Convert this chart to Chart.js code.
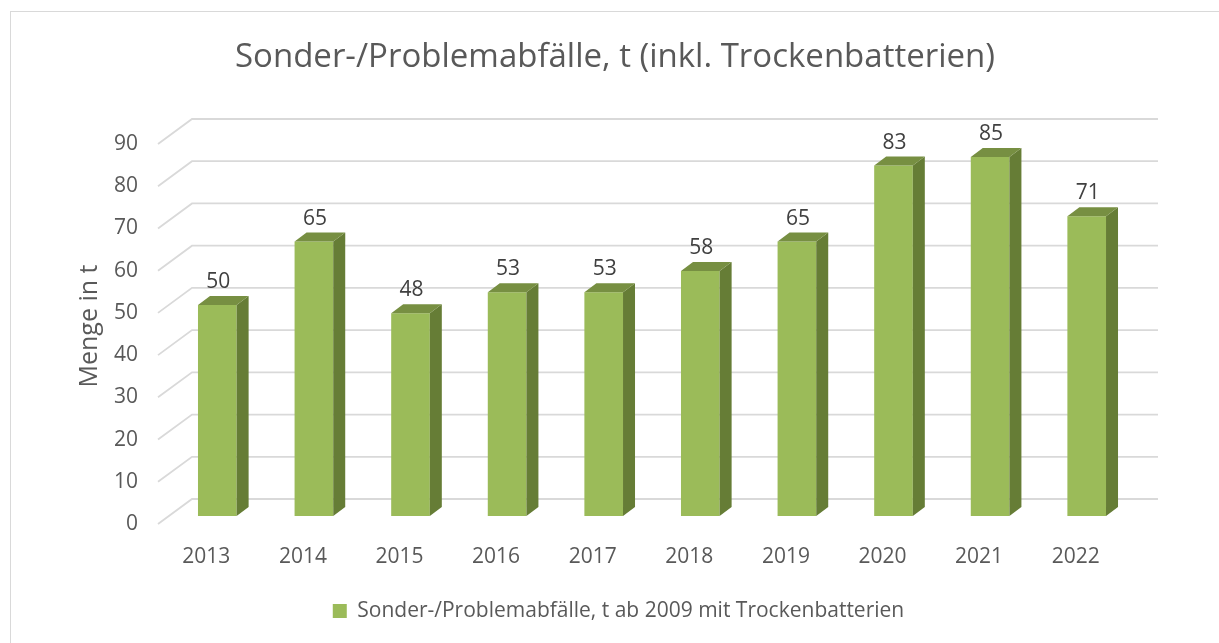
<!DOCTYPE html>
<html>
<head>
<meta charset="utf-8">
<title>Sonder-/Problemabfälle</title>
<script src="https://cdn.jsdelivr.net/npm/chart.js@4/dist/chart.umd.min.js"></script>
<style>
    html, body { margin: 0; padding: 0; background: #ffffff; }
    #wrap { position: relative; width: 1219px; height: 643px; }
    #frame { position: absolute; left: 10px; top: 11px; width: 1300px; height: 700px;
             border: 1px solid #d9d9d9; box-sizing: border-box; }
    canvas { position: absolute; left: 0; top: 0; }
</style>
</head>
<body>
<div id="wrap">
    <div id="frame"></div>
    <canvas id="wasteChart" width="1219" height="643"></canvas>
</div>
<script>
// Chart data
const years = ['2013', '2014', '2015', '2016', '2017', '2018', '2019', '2020', '2021', '2022'];
const tonnes = [50, 65, 48, 53, 53, 58, 65, 83, 85, 71];
const yTicks = [0, 10, 20, 30, 40, 50, 60, 70, 80, 90];

const seriesName = 'Sonder-/Problemabfälle, t ab 2009 mit Trockenbatterien';
const chartTitle = 'Sonder-/Problemabfälle, t (inkl. Trockenbatterien)';

const FONT = '"Open Sans", sans-serif';
const TEXT = '#595959';

// 3D offsets (px) - bar depth and wall depth
const BAR_DX = 12, BAR_DY = -9;
const FRONT_DX = -11, FRONT_DY = 8;   // from bar front plane to floor front edge
const BACK_DX = 23, BACK_DY = -17;    // from bar front plane to back wall

const pseudo3d = {
    id: 'pseudo3d',
    beforeDatasetsDraw(chart) {
        const ctx = chart.ctx;
        const y = chart.scales.y;
        const area = chart.chartArea;
        ctx.save();
        ctx.strokeStyle = '#d9d9d9';
        ctx.lineWidth = 1.8;
        yTicks.forEach(v => {
            const py = y.getPixelForValue(v);
            ctx.beginPath();
            ctx.moveTo(area.left + FRONT_DX, py + FRONT_DY);
            ctx.lineTo(area.left + BACK_DX, py + BACK_DY);
            ctx.lineTo(area.right + BACK_DX, py + BACK_DY);
            ctx.stroke();
        });
        ctx.restore();
    },
    afterDatasetsDraw(chart) {
        const ctx = chart.ctx;
        const meta = chart.getDatasetMeta(0);
        ctx.save();
        meta.data.forEach((bar, i) => {
            const left = bar.x - bar.width / 2;
            const right = bar.x + bar.width / 2;
            const top = bar.y;
            const base = bar.base;
            // side face
            ctx.fillStyle = '#667d36';
            ctx.beginPath();
            ctx.moveTo(right, top);
            ctx.lineTo(right + BAR_DX, top + BAR_DY);
            ctx.lineTo(right + BAR_DX, base + BAR_DY);
            ctx.lineTo(right, base);
            ctx.closePath();
            ctx.fill();
            // top face
            ctx.fillStyle = '#778f42';
            ctx.beginPath();
            ctx.moveTo(left, top);
            ctx.lineTo(left + BAR_DX, top + BAR_DY);
            ctx.lineTo(right + BAR_DX, top + BAR_DY);
            ctx.lineTo(right, top);
            ctx.closePath();
            ctx.fill();
            // value label
            ctx.fillStyle = '#404040';
            ctx.font = '21px ' + FONT;
            ctx.textAlign = 'center';
            ctx.textBaseline = 'alphabetic';
            ctx.fillText(String(tonnes[i]), bar.x + 1, top + BAR_DY - 8);
        });
        ctx.restore();
    },
    afterDraw(chart) {
        // title centred on the whole canvas
        const ctx = chart.ctx;
        ctx.save();
        ctx.fillStyle = TEXT;
        ctx.font = '33px ' + FONT;
        ctx.textAlign = 'center';
        ctx.textBaseline = 'middle';
        ctx.fillText(chartTitle, 615, 58);
        ctx.restore();
    }
};

document.addEventListener('DOMContentLoaded', function() {
    const ctx = document.getElementById('wasteChart').getContext('2d');

    new Chart(ctx, {
        type: 'bar',
        data: {
            labels: years,
            datasets: [{
                label: seriesName,
                data: tonnes,
                backgroundColor: '#9bbb59',
                borderWidth: 0,
                categoryPercentage: 1.0,
                barPercentage: 0.4
            }]
        },
        options: {
            responsive: false,
            animation: false,
            layout: {
                padding: { left: 18, right: 0, top: 136, bottom: 11.5 }
            },
            plugins: {
                title: { display: false },
                legend: {
                    position: 'bottom',
                    labels: {
                        color: TEXT,
                        font: { family: FONT, size: 21 },
                        boxWidth: 14,
                        boxHeight: 14,
                        padding: 10
                    }
                },
                tooltip: { enabled: false }
            },
            scales: {
                x: {
                    grid: { display: false, drawTicks: false },
                    border: { display: false },
                    ticks: {
                        color: TEXT,
                        font: { family: FONT, size: 21 },
                        labelOffset: FRONT_DX,
                        padding: 28,
                        maxRotation: 0,
                        autoSkip: false
                    },
                    afterFit(scale) { scale.height = 74.5; }
                },
                y: {
                    min: 0,
                    max: 90,
                    grid: { display: false, drawTicks: false },
                    border: { display: false },
                    ticks: {
                        stepSize: 10,
                        color: TEXT,
                        font: { family: FONT, size: 21 },
                        labelOffset: FRONT_DY,
                        padding: 31
                    },
                    title: {
                        display: true,
                        text: 'Menge in t',
                        color: TEXT,
                        font: { family: FONT, size: 25 },
                        padding: { top: 57, bottom: 0 }
                    },
                    afterFit(scale) { scale.width = 151; }
                },
                // empty right-hand axis, only keeps room for the 3D depth
                yRight: {
                    position: 'right',
                    grid: { display: false, drawTicks: false },
                    border: { display: false },
                    ticks: { display: false },
                    afterFit(scale) { scale.width = 84; }
                }
            }
        },
        plugins: [pseudo3d]
    });
});
</script>
</body>
</html>
